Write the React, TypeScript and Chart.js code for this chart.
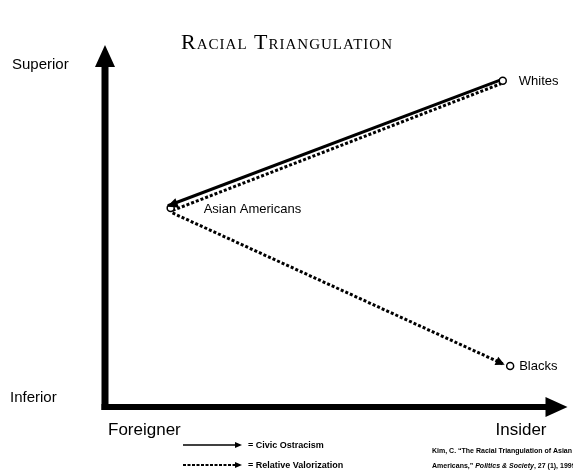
import React, { useEffect, useRef } from "react";
import { Chart, registerables } from "chart.js";

Chart.register(...registerables);

// Group positions (x: Foreigner 0 → Insider 100, y: Inferior 0 → Superior 100)
const groupNames = ["Whites", "Asian Americans", "Blacks"];
const groupX = [86.0, 14.2, 87.6];
const groupY = [90.1, 55.0, 11.3];

// Civic ostracism path (solid, Whites → Asian Americans)
const civicX = [86.0, 13.6];
const civicY = [90.6, 55.6];

// Relative valorization paths (dotted)
const valorUpX = [14.6, 85.6];
const valorUpY = [54.3, 89.3];
const valorDownX = [14.6, 86.4];
const valorDownY = [53.6, 11.7];

const titleText = "Racial Triangulation";
const yLabels = ["Inferior", "Superior"];
const xLabels = ["Foreigner", "Insider"];
const legendLabels = ["= Civic Ostracism", "= Relative Valorization"];
const citeLine1 = "Kim, C. \u201CThe Racial Triangulation of Asian";
const citeLine2a = "Americans,\u201D ";
const citeLine2b = "Politics & Society";
const citeLine2c = ", 27 (1), 1999";

const SANS = '"Liberation Sans", Arial, sans-serif';
const SERIF = '"Liberation Serif", "Times New Roman", serif';

function toPts(xs: number[], ys: number[]) {
  return xs.map((x, i) => ({ x, y: ys[i] }));
}

function arrowHead(ctx: CanvasRenderingContext2D, fromX: number, fromY: number, toX: number, toY: number, len: number, half: number) {
  const a = Math.atan2(toY - fromY, toX - fromX);
  ctx.save();
  ctx.translate(toX, toY);
  ctx.rotate(a);
  ctx.beginPath();
  ctx.moveTo(0, 0);
  ctx.lineTo(-len, -half);
  ctx.lineTo(-len, half);
  ctx.closePath();
  ctx.fillStyle = "#000";
  ctx.fill();
  ctx.restore();
}

const diagramPlugin = {
  id: "diagram",
  beforeDatasetsDraw(chart: any) {
    const { ctx, chartArea } = chart;
    const { left, right, top, bottom } = chartArea;
    ctx.save();
    ctx.fillStyle = "#000";
    // vertical axis
    ctx.fillRect(left - 3.5, top + 18, 7, bottom - top - 18 + 3);
    ctx.beginPath();
    ctx.moveTo(left, top);
    ctx.lineTo(left - 10, top + 22);
    ctx.lineTo(left + 10, top + 22);
    ctx.closePath();
    ctx.fill();
    // horizontal axis
    ctx.fillRect(left - 3.5, bottom - 3, right - left - 18, 6);
    ctx.beginPath();
    ctx.moveTo(right, bottom);
    ctx.lineTo(right - 22, bottom - 10);
    ctx.lineTo(right - 22, bottom + 10);
    ctx.closePath();
    ctx.fill();
    ctx.restore();
  },
  afterDatasetsDraw(chart: any) {
    const { ctx, chartArea } = chart;
    const { left, right, bottom } = chartArea;
    ctx.save();
    // arrowheads
    const civic = chart.getDatasetMeta(1).data;
    arrowHead(ctx, civic[0].x, civic[0].y, civic[1].x - 1, civic[1].y + 1, 11, 5);
    const down = chart.getDatasetMeta(3).data;
    arrowHead(ctx, down[0].x, down[0].y, down[1].x, down[1].y, 9, 4.5);

    // point labels
    const pts = chart.getDatasetMeta(0).data;
    ctx.fillStyle = "#000";
    ctx.textBaseline = "alphabetic";
    ctx.textAlign = "left";
    ctx.font = `13px ${SANS}`;
    const offs = [
      [16, 4],
      [33, 5],
      [9, 4],
    ];
    pts.forEach((p: any, i: number) => {
      ctx.fillText(groupNames[i], p.x + offs[i][0], p.y + offs[i][1]);
    });

    // axis end labels
    ctx.font = `15px ${SANS}`;
    ctx.fillText(yLabels[1], 12, 69);
    ctx.fillText(yLabels[0], 10, 402);
    ctx.font = `17px ${SANS}`;
    ctx.fillText(xLabels[0], left + 3, bottom + 28);
    ctx.fillText(xLabels[1], right - 72, bottom + 28);

    // title (small caps)
    ctx.font = `small-caps 22px ${SERIF}`;
    ctx.textAlign = "center";
    try {
      (ctx as any).letterSpacing = "1px";
    } catch (e) {}
    ctx.fillText(titleText, 287, 49);
    try {
      (ctx as any).letterSpacing = "0px";
    } catch (e) {}

    // legend
    ctx.textAlign = "left";
    const lx0 = 183;
    const lx1 = 236;
    ctx.strokeStyle = "#000";
    ctx.lineWidth = 1.5;
    ctx.beginPath();
    ctx.moveTo(lx0, 445);
    ctx.lineTo(lx1, 445);
    ctx.stroke();
    arrowHead(ctx, lx0, 445, lx1 + 6, 445, 7, 3);
    ctx.setLineDash([3, 1.5]);
    ctx.lineWidth = 2;
    ctx.beginPath();
    ctx.moveTo(lx0, 465);
    ctx.lineTo(lx1, 465);
    ctx.stroke();
    ctx.setLineDash([]);
    arrowHead(ctx, lx0, 465, lx1 + 6, 465, 7, 3);
    ctx.font = `bold 9px ${SANS}`;
    ctx.fillText(legendLabels[0], 248, 448);
    ctx.fillText(legendLabels[1], 248, 468);

    // citation
    ctx.font = `bold 7px ${SANS}`;
    ctx.fillText(citeLine1, 432, 453);
    let cx = 432;
    ctx.fillText(citeLine2a, cx, 468);
    cx += ctx.measureText(citeLine2a).width;
    ctx.font = `italic bold 7px ${SANS}`;
    ctx.fillText(citeLine2b, cx, 468);
    cx += ctx.measureText(citeLine2b).width;
    ctx.font = `bold 7px ${SANS}`;
    ctx.fillText(citeLine2c, cx, 468);
    ctx.restore();
  },
};

export default function App() {
  const ref = useRef<HTMLCanvasElement | null>(null);
  useEffect(() => {
    if (!ref.current) return;
    const chart = new Chart(ref.current, {
      type: "scatter",
      data: {
        datasets: [
          {
            label: "Groups",
            data: toPts(groupX, groupY),
            showLine: false,
            pointRadius: 3.5,
            pointBackgroundColor: "#fff",
            pointBorderColor: "#000",
            pointBorderWidth: 1.5,
            order: 0,
          },
          {
            label: "Civic Ostracism",
            data: toPts(civicX, civicY),
            showLine: true,
            borderColor: "#000",
            borderWidth: 3,
            pointRadius: 0,
            order: 1,
          },
          {
            label: "Relative Valorization (Whites)",
            data: toPts(valorUpX, valorUpY),
            showLine: true,
            borderColor: "#000",
            borderWidth: 3,
            borderDash: [3, 2],
            pointRadius: 0,
            order: 2,
          },
          {
            label: "Relative Valorization (Blacks)",
            data: toPts(valorDownX, valorDownY),
            showLine: true,
            borderColor: "#000",
            borderWidth: 3,
            borderDash: [3, 2],
            pointRadius: 0,
            order: 3,
          },
        ],
      },
      options: {
        responsive: false,
        animation: false,
        devicePixelRatio: 1,
        layout: { padding: { left: 105, top: 45, right: 3, bottom: 67 } },
        plugins: {
          legend: { display: false },
          title: { display: false },
          tooltip: { enabled: false },
        },
        scales: {
          x: { type: "linear", min: 0, max: 100, display: false },
          y: { type: "linear", min: 0, max: 100, display: false },
        },
      },
      plugins: [diagramPlugin],
    });
    return () => chart.destroy();
  }, []);
  return (
    <div style={{ position: "fixed", left: 0, top: 0, width: 573, height: 474, background: "#fff" }}>
      <canvas ref={ref} width={573} height={474} style={{ display: "block" }} />
    </div>
  );
}
